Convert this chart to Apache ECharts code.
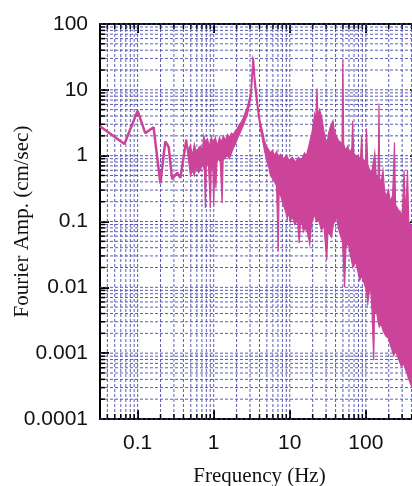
<!DOCTYPE html>
<html>
<head>
<meta charset="utf-8">
<script src="https://cdn.jsdelivr.net/npm/echarts@6/dist/echarts.min.js"></script>
<style>
html,body{margin:0;padding:0;background:#fff;}
#chart{width:412px;height:486px;}
</style>
</head>
<body>
<div id="chart"></div>
<script>
// ---- data ----
const xTickLabels = {'-1': '0.1', '0': '1', '1': '10', '2': '100'};
const yTickLabels = {'-4': '0.0001', '-3': '0.001', '-2': '0.01', '-1': '0.1', '0': '1', '1': '10', '2': '100'};

// low-frequency part (single line)
const lowFreq = [0.032, 0.067, 0.1, 0.126, 0.162, 0.199, 0.231, 0.256, 0.284, 0.33, 0.365, 0.437];
const lowAmp  = [2.8,   1.5,   4.8, 2.2,   2.7,   0.38,  1.65,  1.35,  0.44,  0.55, 0.46,  1.75];

// upper envelope of the dense spectrum
const topFreq = [0.437, 0.465, 0.494, 0.525, 0.556, 0.59, 0.63, 0.668, 0.71, 0.74, 0.778, 0.826, 0.877, 0.932, 0.99,
  1.05, 1.12, 1.19, 1.26, 1.34, 1.43, 1.52, 1.61, 1.71, 1.81, 1.93, 2.05, 2.18, 2.32, 2.46, 2.61, 2.78, 2.95,
  3.09, 3.18, 3.27, 3.36, 3.47, 3.64, 3.87, 4.11, 4.4, 4.65, 4.9, 5.25, 5.57, 5.9, 6.3, 6.7, 7.1, 7.55, 8.3,
  9.0, 9.9, 10.8, 11.9, 13.0, 14.2, 15.6, 16.5, 17.5, 18.7, 19.5, 20.4, 21.2, 22.0, 22.8, 23.4, 24.6, 26.2,
  28.0, 29.5, 30.9, 32.4, 34.3, 37.0, 38.5, 41.0, 43.5, 46.5, 48.6, 49.8, 51.2, 54.1, 57.6, 61.5, 65.4, 67.0,
  69.4, 75.3, 80, 85, 88, 91, 99, 102, 106, 112, 117, 121, 131, 137, 145, 149, 152, 159, 168, 176, 184, 198,
  211, 225, 238, 246, 268, 286, 302, 318, 333, 353, 367, 387, 423, 465, 500];
const topAmp = [1.75, 1.2, 1.45, 1.0, 1.5, 1.1, 1.3, 1.4, 1.2, 2.0, 1.6, 1.8, 1.4, 1.9, 1.5,
  1.9, 1.4, 1.9, 1.6, 2.0, 1.7, 2.1, 1.9, 2.2, 2.1, 2.4, 2.6, 3.0, 3.3, 3.8, 4.6, 5.6, 7.5,
  10, 18, 31, 28, 16, 9.5, 5.0, 3.2, 2.3, 1.7, 1.4, 1.25, 1.1, 1.2, 1.0, 1.15, 0.95, 1.05, 0.9,
  1.0, 0.85, 0.95, 0.8, 0.95, 0.85, 1.1, 1.0, 1.3, 1.8, 2.2, 3.0, 4.3, 3.5, 10.5, 4.0, 5.0, 4.0,
  2.4, 1.8, 1.5, 2.2, 2.8, 3.4, 2.4, 2.0, 1.7, 1.6, 1.4, 28, 1.5, 1.2, 1.4, 1.1, 1.3, 3.4,
  1.1, 0.95, 1.0, 0.85, 2.0, 0.9, 0.8, 2.6, 0.75, 0.6, 0.55, 0.6, 1.1, 0.5, 0.45, 6.2, 0.45, 0.4, 0.6, 0.3, 0.24, 0.3,
  0.2, 0.25, 1.6, 0.18, 0.15, 0.14, 0.12, 0.6, 0.12, 0.6, 0.1, 0.09, 0.075, 0.065, 0.06];

// lower envelope of the dense spectrum
const botFreq = [0.437, 0.465, 0.494, 0.525, 0.556, 0.59, 0.63, 0.668, 0.71, 0.755, 0.778, 0.80, 0.85, 0.905, 0.93,
  0.976, 1.0, 1.03, 1.07, 1.1, 1.15, 1.22, 1.29, 1.33, 1.43, 1.52, 1.61, 1.71, 1.81, 1.93, 2.05, 2.18, 2.32,
  2.46, 2.61, 2.78, 2.95, 3.09, 3.18, 3.27, 3.36, 3.47, 3.64, 3.87, 4.11, 4.4, 4.65, 4.9, 5.25, 5.57, 5.9, 6.3,
  6.7, 7.05, 7.25, 7.55, 8.0, 8.5, 9.0, 9.3, 9.6, 10.2, 10.8, 11.6, 12.1, 12.6, 13.3, 13.8, 14.4, 15.1, 16.1,
  17.0, 18.3, 19.3, 21.2, 22.3, 23.6, 26.2, 28.0, 30.6, 31.8, 35.4, 37.5, 41.0, 43.5, 46.5, 49.3, 52.6, 54.8,
  58.6, 63, 67.5, 73, 78, 83, 89, 95, 102, 106, 112, 115, 120, 127, 130, 137, 145, 150, 159, 168, 184, 198,
  211, 233, 243, 252, 270, 293, 312, 345, 367, 400, 440, 500];
const botAmp = [1.5, 0.9, 0.5, 0.6, 0.5, 0.7, 0.55, 0.6, 0.75, 0.6, 0.16, 0.7, 0.8, 0.16, 0.75,
  0.6, 0.17, 0.7, 0.32, 0.8, 0.9, 0.8, 0.19, 0.85, 0.95, 1.0, 0.9, 1.1, 1.3, 1.5, 1.8, 2.1, 2.5,
  2.9, 3.5, 4.3, 5.8, 8, 12, 20, 18, 11, 7, 4.0, 2.5, 1.7, 1.2, 0.9, 0.7, 0.5, 0.45, 0.4,
  0.35, 0.036, 0.3, 0.25, 0.2, 0.16, 0.13, 0.11, 0.14, 0.1, 0.12, 0.09, 0.095, 0.11, 0.047, 0.09, 0.1, 0.07, 0.08,
  0.07, 0.045, 0.09, 0.13, 0.1, 0.11, 0.073, 0.09, 0.026, 0.07, 0.058, 0.09, 0.12, 0.08, 0.06, 0.05, 0.01, 0.04,
  0.047, 0.03, 0.02, 0.025, 0.018, 0.0128, 0.015, 0.0115, 0.009, 0.0057, 0.009, 0.011, 0.005, 0.00078, 0.004, 0.0045, 0.003, 0.0025, 0.0028, 0.0022, 0.0018, 0.0017,
  0.0013, 0.00092, 0.0011, 0.001, 0.0008, 0.00063, 0.0007, 0.0005, 0.0004, 0.00031, 0.00028, 0.00025];

// ---- chart ----
const LINE = '#cc4499';
const GRIDC = '#4a4aaa';
const xMin = 0.032, xMax = 500, yMin = 0.0001, yMax = 100;

function decadeValues(lo, hi, lim) {
  const out = [];
  for (let k = lo; k <= hi; k++) {
    for (let m = 1; m <= 9; m++) {
      const v = parseFloat((m * Math.pow(10, k)).toPrecision(3));
      if (v >= lim[0] && v <= lim[1]) out.push(v);
    }
  }
  return out;
}
const xGridValues = decadeValues(-2, 2, [xMin * 1.001, xMax]);
const yGridValues = decadeValues(-4, 2, [yMin, yMax]);
function isPow10(v) { const l = Math.log10(v); return Math.abs(l - Math.round(l)) < 1e-6; }

const chart = echarts.init(document.getElementById('chart'), null, {renderer: 'canvas'});

function renderXGrid(params, api) {
  const v = api.value(0);
  const cs = params.coordSys;
  const px = api.coord([v, 1])[0];
  const ch = [{type: 'line', shape: {x1: px, y1: cs.y, x2: px, y2: cs.y + cs.height},
    style: {stroke: GRIDC, lineWidth: 1, lineDash: [3, 2], opacity: 0.9}}];
  if (!isPow10(v)) {
    ch.push({type: 'line', shape: {x1: px, y1: cs.y + cs.height, x2: px, y2: cs.y + cs.height - 5}, style: {stroke: '#000', lineWidth: 1.5}});
    ch.push({type: 'line', shape: {x1: px, y1: cs.y, x2: px, y2: cs.y + 5}, style: {stroke: '#000', lineWidth: 1.5}});
  }
  return {type: 'group', children: ch};
}
function renderYGrid(params, api) {
  const v = api.value(1);
  const cs = params.coordSys;
  const py = api.coord([1, v])[1];
  const ch = [{type: 'line', shape: {x1: cs.x, y1: py, x2: cs.x + cs.width, y2: py},
    style: {stroke: GRIDC, lineWidth: 1, lineDash: [3, 2], opacity: 0.9}}];
  if (!isPow10(v)) {
    ch.push({type: 'line', shape: {x1: cs.x, y1: py, x2: cs.x + 5, y2: py}, style: {stroke: '#000', lineWidth: 1.5}});
    ch.push({type: 'line', shape: {x1: cs.x + cs.width, y1: py, x2: cs.x + cs.width - 5, y2: py}, style: {stroke: '#000', lineWidth: 1.5}});
  }
  return {type: 'group', children: ch};
}
function renderBand(params, api) {
  const pts = [];
  for (let i = 0; i < topFreq.length; i++) pts.push(api.coord([topFreq[i], topAmp[i]]));
  for (let i = botFreq.length - 1; i >= 0; i--) pts.push(api.coord([botFreq[i], botAmp[i]]));
  return {type: 'polygon', shape: {points: pts},
    style: {fill: LINE, stroke: LINE, lineWidth: 1.2, lineJoin: 'miter'}};
}

const axisCommon = {
  type: 'log', logBase: 10,
  splitLine: {show: false}, minorTick: {show: false}, minorSplitLine: {show: false},
  axisLine: {show: true, onZero: false, lineStyle: {color: '#000', width: 2}},
  axisTick: {show: true, inside: true, length: 9, lineStyle: {color: '#000', width: 2}}
};

const option = {
  animation: false,
  backgroundColor: '#fff',
  grid: {left: 100, top: 24, right: -7, bottom: 67, containLabel: false, outerBoundsMode: 'none'},
  xAxis: [
    Object.assign({}, axisCommon, {
      min: xMin, max: xMax, position: 'bottom',
      name: 'Frequency (Hz)', nameLocation: 'middle', nameGap: 47, nameMoveOverlap: false,
      nameTextStyle: {fontFamily: 'Liberation Serif', fontSize: 21, color: '#111'},
      axisLabel: {show: true, margin: 14, fontFamily: 'Liberation Sans', fontSize: 21, color: '#111',
        showMinLabel: false, showMaxLabel: false,
        formatter: v => { const k = Math.round(Math.log10(v)); return isPow10(v) && xTickLabels[k] ? xTickLabels[k] : ''; }}
    }),
    Object.assign({}, axisCommon, {min: xMin, max: xMax, position: 'top', axisLabel: {show: false}})
  ],
  yAxis: [
    Object.assign({}, axisCommon, {
      min: yMin, max: yMax, position: 'left',
      name: 'Fourier Amp. (cm/sec)', nameLocation: 'middle', nameGap: 67, nameMoveOverlap: false,
      nameTextStyle: {fontFamily: 'Liberation Serif', fontSize: 21, color: '#111'},
      axisLabel: {show: true, margin: 12, fontFamily: 'Liberation Sans', fontSize: 21, color: '#111',
        formatter: v => { const k = Math.round(Math.log10(v)); return yTickLabels[k] || ''; }}
    }),
    Object.assign({}, axisCommon, {min: yMin, max: yMax, position: 'right', axisLabel: {show: false}})
  ],
  series: [
    {type: 'custom', name: 'xgrid', xAxisIndex: 0, yAxisIndex: 0, z: 1, silent: true,
      renderItem: renderXGrid, data: xGridValues.map(v => [v, 1])},
    {type: 'custom', name: 'ygrid', xAxisIndex: 0, yAxisIndex: 0, z: 1, silent: true,
      renderItem: renderYGrid, data: yGridValues.map(v => [1, v])},
    {type: 'custom', name: 'band', xAxisIndex: 0, yAxisIndex: 0, z: 3, clip: true, silent: true,
      renderItem: renderBand, data: [[1, 1]]},
    {type: 'line', name: 'low', xAxisIndex: 0, yAxisIndex: 0, z: 3, showSymbol: false, clip: true,
      lineStyle: {color: LINE, width: 2.5}, itemStyle: {color: LINE},
      data: lowFreq.map((f, i) => [f, lowAmp[i]])}
  ]
};
chart.setOption(option);
</script>
</body>
</html>
